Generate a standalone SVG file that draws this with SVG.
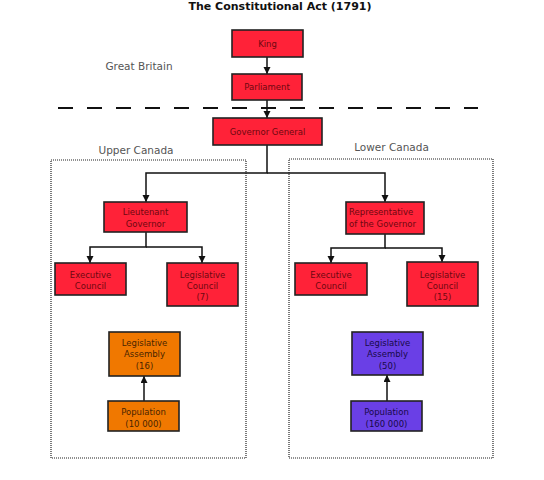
<svg xmlns="http://www.w3.org/2000/svg" width="544" height="480" viewBox="0 0 544 480">
<style>
  .t{font-family:"DejaVu Sans","Liberation Sans",sans-serif;font-size:8.5px;text-anchor:middle}
  .red rect{fill:#ff2238;stroke:#222;stroke-width:1.6}
  .red text{fill:#6e0810}
  .org rect{fill:#f07800;stroke:#222;stroke-width:1.6}
  .org text{fill:#4a2500}
  .pur rect{fill:#6a3fe6;stroke:#222;stroke-width:1.6}
  .pur text{fill:#180a4a}
  .lbl{font-family:"DejaVu Sans","Liberation Sans",sans-serif;font-size:10.5px;fill:#555;text-anchor:middle}
  .conn{fill:none;stroke:#111;stroke-width:1.5}
  .region{fill:none;stroke:#222;stroke-width:1.2;stroke-dasharray:1 1}
</style>
<defs>
  <marker id="ah" markerUnits="userSpaceOnUse" markerWidth="8" markerHeight="8" refX="7" refY="3.5" orient="auto">
    <path d="M0,0 L7,3.5 L0,7 z" fill="#111"/>
  </marker>
</defs>
<rect width="544" height="480" fill="#fff"/>
<text x="280" y="9.5" font-family="DejaVu Sans, Liberation Sans, sans-serif" font-size="11" font-weight="bold" text-anchor="middle" fill="#111">The Constitutional Act (1791)</text>
<text class="lbl" x="139" y="70">Great Britain</text>
<text class="lbl" x="136" y="154">Upper Canada</text>
<text class="lbl" x="391.5" y="151">Lower Canada</text>
<line x1="58" y1="108" x2="478" y2="108" stroke="#111" stroke-width="1.8" stroke-dasharray="15 14"/>
<rect class="region" x="51" y="160" width="195" height="298"/>
<rect class="region" x="289" y="159" width="204" height="299"/>
<g id="connectors" class="conn">
  <path d="M267,57 V74" marker-end="url(#ah)"/>
  <path d="M267,100 V118" marker-end="url(#ah)"/>
  <path d="M267,145 V173 H146 V202" marker-end="url(#ah)"/>
  <path d="M267,173 H385 V202" marker-end="url(#ah)"/>
  <path d="M146,232 V247 H90 V263" marker-end="url(#ah)"/>
  <path d="M146,247 H202 V263" marker-end="url(#ah)"/>
  <path d="M385,234 V248 H331 V263" marker-end="url(#ah)"/>
  <path d="M385,248 H442 V262" marker-end="url(#ah)"/>
  <path d="M144,401 V376" marker-end="url(#ah)"/>
  <path d="M387,401 V375" marker-end="url(#ah)"/>
</g>
<g id="king" class="red"><rect x="232" y="30" width="71" height="27"/><text class="t" x="267.5" y="46.5">King</text></g>
<g id="parliament" class="red"><rect x="232" y="74" width="70" height="26"/><text class="t" x="267" y="90">Parliament</text></g>
<g id="governor-general" class="red"><rect x="213" y="118" width="109" height="27"/><text class="t" x="267.5" y="134.5">Governor General</text></g>
<g id="lieutenant-governor" class="red"><rect x="104" y="202" width="83" height="30"/><text class="t" x="145.5" y="215">Lieutenant</text><text class="t" x="145.5" y="227">Governor</text></g>
<g id="representative" class="red"><rect x="346" y="202" width="78" height="32"/><text class="t" x="349" y="215" style="text-anchor:start">Representative</text><text class="t" x="349" y="226.5" style="text-anchor:start">of the Governor</text></g>
<g id="uc-executive" class="red"><rect x="55" y="263" width="71" height="32"/><text class="t" x="90.5" y="278">Executive</text><text class="t" x="90.5" y="289">Council</text></g>
<g id="uc-legislative-council" class="red"><rect x="167" y="263" width="71" height="43"/><text class="t" x="202.5" y="278">Legislative</text><text class="t" x="202.5" y="289">Council</text><text class="t" x="202.5" y="300">(7)</text></g>
<g id="lc-executive" class="red"><rect x="295" y="263" width="72" height="32"/><text class="t" x="331" y="278">Executive</text><text class="t" x="331" y="289">Council</text></g>
<g id="lc-legislative-council" class="red"><rect x="407" y="262" width="71" height="44"/><text class="t" x="442.5" y="277.5">Legislative</text><text class="t" x="442.5" y="288.5">Council</text><text class="t" x="442.5" y="299.5">(15)</text></g>
<g id="uc-assembly" class="org"><rect x="109" y="332" width="71" height="44"/><text class="t" x="144.5" y="345.5">Legislative</text><text class="t" x="144.5" y="357">Assembly</text><text class="t" x="144.5" y="368.5">(16)</text></g>
<g id="uc-population" class="org"><rect x="108" y="401" width="71" height="30"/><text class="t" x="143.5" y="415">Population</text><text class="t" x="143.5" y="426.5">(10 000)</text></g>
<g id="lc-assembly" class="pur"><rect x="352" y="332" width="71" height="43"/><text class="t" x="387.5" y="345.5">Legislative</text><text class="t" x="387.5" y="357">Assembly</text><text class="t" x="387.5" y="368.5">(50)</text></g>
<g id="lc-population" class="pur"><rect x="351" y="401" width="71" height="30"/><text class="t" x="386.5" y="415">Population</text><text class="t" x="386.5" y="426.5">(160 000)</text></g>
</svg>
